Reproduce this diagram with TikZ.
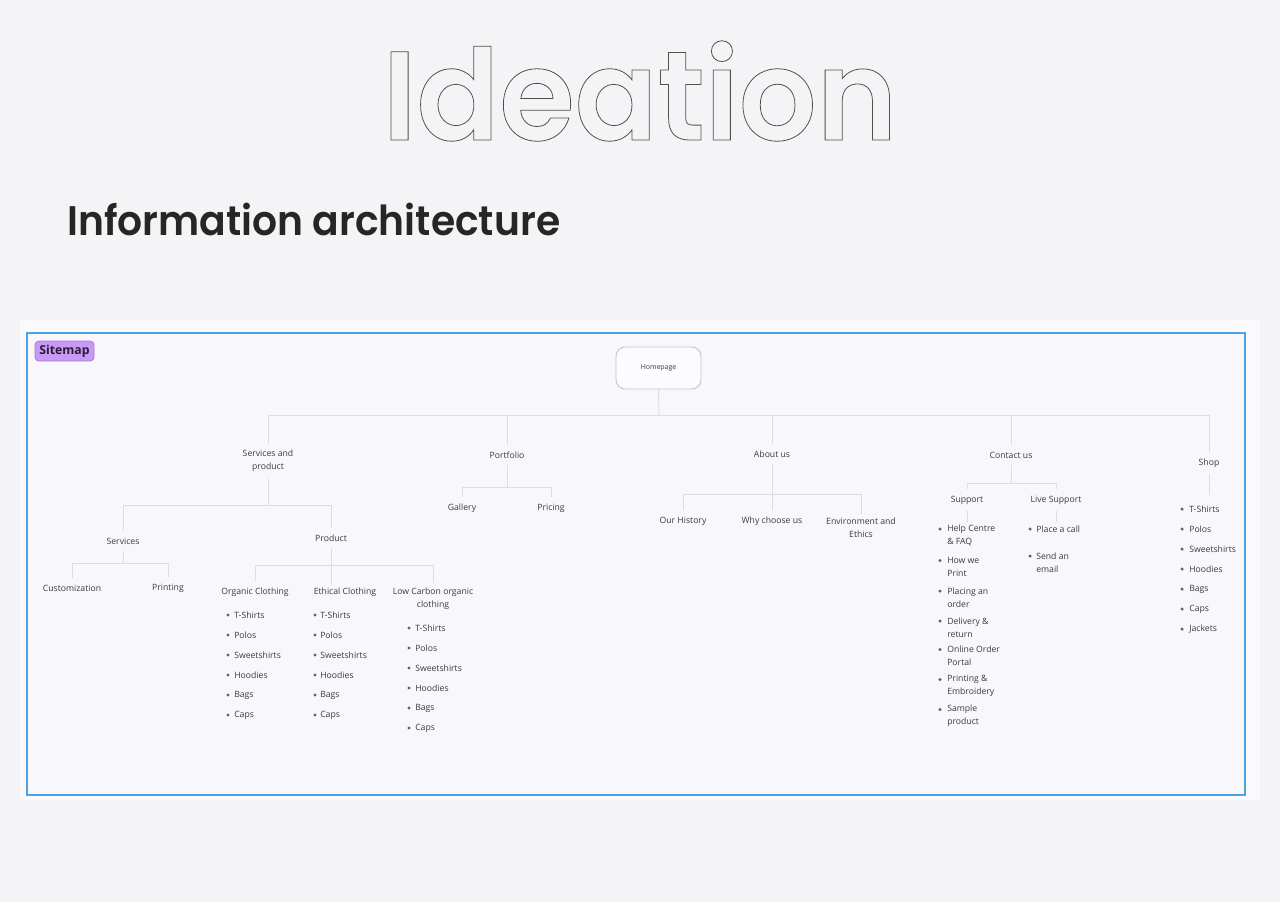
\documentclass[tikz,border=0pt]{standalone}
\usepackage{fontspec}
\setmainfont{Open Sans}
\newfontfamily\popsb{Poppins SemiBold}
\definecolor{bg}{HTML}{F4F4F6}
\definecolor{panel}{HTML}{FAFAFC}
\definecolor{inner}{HTML}{F8F7FC}
\definecolor{frameblue}{HTML}{4AA3E2}
\definecolor{tagfill}{HTML}{C89AF5}
\definecolor{tagline}{HTML}{A874E0}
\definecolor{conn}{HTML}{DCDCE2}
\definecolor{txt}{HTML}{3A3A40}
\definecolor{outl}{HTML}{505050}
\newcommand\outlinetext[1]{\special{pdf:literal direct 1 Tr 0.6 w}#1\special{pdf:literal direct 0 Tr}}
\tikzset{
  lbl/.style={font=\fontsize{6.5}{9.75}\selectfont, text=txt, align=center, inner sep=0pt, outer ysep=5},
  itm/.style={font=\fontsize{6.5}{9.75}\selectfont, text=txt, align=left, anchor=west, inner sep=0pt},
  bul/.style={circle, fill=txt!80, inner sep=0pt, minimum size=2.6},
  cn/.style={draw=conn, line width=0.75pt},
}
\begin{document}
\begin{tikzpicture}[x=0.75pt,y=-0.75pt]
\useasboundingbox (0,0) rectangle (1280,902);
\fill[bg] (0,0) rectangle (1280,902);
% title
\node[font=\popsb\fontsize{95}{95}\selectfont, text=outl, inner sep=0pt, xscale=0.964, transform shape] (title) at (640,91) {\outlinetext{Ideation}};
\node[font=\popsb\fontsize{31}{31}\selectfont, text=black!85, anchor=west, inner sep=0pt, xscale=0.95, transform shape] (sub) at (67,219) {Information architecture};
% panel
\fill[panel] (20,320) rectangle (1260,800);
\draw[frameblue, line width=2pt, fill=inner] (27,333) rectangle (1245,795);
\node[draw=tagline, fill=tagfill, rounded corners=3pt, line width=0.6pt, font=\fontsize{9.2}{10}\selectfont\bfseries, text=black!75!tagline, minimum width=44.25pt, minimum height=15pt, inner sep=0pt] (tag) at (64.5,351) {Sitemap};
% homepage
\node[draw=conn!90!black, fill=white!60!inner, rounded corners=7pt, line width=0.7pt, minimum width=63.75pt, minimum height=31.5pt, font=\fontsize{5.2}{6}\selectfont, text=txt] (home) at (658.5,368) {Homepage};
% level 1
\node[lbl] (sp) at (268,461) {Services and\\product};
\node[lbl] (port) at (507,455) {Portfolio};
\node[lbl] (about) at (772,454) {About us};
\node[lbl] (contact) at (1011,455) {Contact us};
\node[lbl] (shop) at (1209,463) {Shop};
\coordinate (b0) at (659,415);
\draw[cn] (home.south) -- (b0);
\foreach \n in {sp,port,about,contact,shop} \draw[cn] (\n.north) |- (b0);
% services and product
\node[lbl] (serv) at (123,541) {Services};
\node[lbl] (prod) at (331,538) {Product};
\coordinate (b1) at (268,505);
\draw[cn] (sp.south) -- (b1);
\draw[cn] (serv.north) |- (b1);
\draw[cn] (prod.north) |- (b1);
\node[lbl] (cust) at (72,588) {Customization};
\node[lbl] (print) at (168,588) {Printing};
\coordinate (b2) at (123,563);
\draw[cn] (serv.south) -- (b2);
\draw[cn] (cust.north) |- (b2);
\draw[cn] (print.north) |- (b2);
\node[lbl] (org) at (255,592) {Organic Clothing};
\node[lbl] (eth) at (345,592) {Ethical Clothing};
\node[lbl] (low) at (433,598.5) {Low Carbon organic\\clothing};
\coordinate (b3) at (331,565);
\coordinate (e3) at (331,585);
\draw[cn] (prod.south) -- (e3);
\draw[cn] (org.north) |- (b3);
\draw[cn] (b3) -| (433,583);
% lists
\foreach \t [count=\i] in {T-Shirts,Polos,Sweetshirts,Hoodies,Bags,Caps}{
  \node[bul] (ob\i) at (228,595+20*\i) {};
  \node[itm] (ot\i) at (234,595+20*\i) {\t};
  \node[bul] (eb\i) at (315,595+20*\i) {};
  \node[itm] (et\i) at (320,595+20*\i) {\t};
  \node[bul] (lb\i) at (409,608+20*\i) {};
  \node[itm] (lt\i) at (415,608+20*\i) {\t};
}
% portfolio
\node[lbl] (gal) at (462,508) {Gallery};
\node[lbl] (pri) at (551,508) {Pricing};
\coordinate (b4) at (507,487);
\draw[cn] (port.south) -- (b4);
\draw[cn] (gal.north) |- (b4);
\draw[cn] (pri.north) |- (b4);
% about
\node[lbl] (hist) at (683,521) {Our History};
\node[lbl] (why) at (772,521) {Why choose us};
\node[lbl] (env) at (861,527.5) {Environment and\\Ethics};
\coordinate (b5) at (772,494);
\draw[cn] (about.south) -- (why.north);
\draw[cn] (hist.north) |- (b5);
\draw[cn] (b5) -| (861,514);
% contact
\node[lbl] (supp) at (967,500) {Support};
\node[lbl] (live) at (1056,500) {Live Support};
\coordinate (b6) at (1011,483);
\draw[cn] (contact.south) -- (b6);
\draw[cn] (supp.north) |- (b6);
\draw[cn] (live.north) |- (b6);
\coordinate (s1) at (967,522);
\coordinate (s2) at (1056,522);
\draw[cn] (supp.south) -- (s1);
\draw[cn] (live.south) -- (s2);
\foreach \t/\y [count=\i] in {{Help Centre\\\& FAQ}/535.5,{How we\\Print}/567,{Placing an\\order}/597.5,{Delivery \&\\return}/627.5,{Online Order\\Portal}/656,{Printing \&\\Embroidery}/686,{Sample\\product}/716}{
  \node[bul] (sb\i) at (940,\y-6.5) {};
  \node[itm, anchor=west] (st\i) at (947,\y) {\t};
}
\node[bul] (lvb1) at (1030,529) {};
\node[itm] (lvt1) at (1036,529) {Place a call};
\node[bul] (lvb2) at (1030,556) {};
\node[itm] (lvt2) at (1036,562.5) {Send an\\email};
% shop
\coordinate (s3) at (1209,495);
\draw[cn] (shop.south) -- (s3);
\foreach \t [count=\i] in {T-Shirts,Polos,Sweetshirts,Hoodies,Bags,Caps,Jackets}{
  \node[bul] (hb\i) at (1182,489+20*\i) {};
  \node[itm] (ht\i) at (1189,489+20*\i) {\t};
}
\end{tikzpicture}
\end{document}
